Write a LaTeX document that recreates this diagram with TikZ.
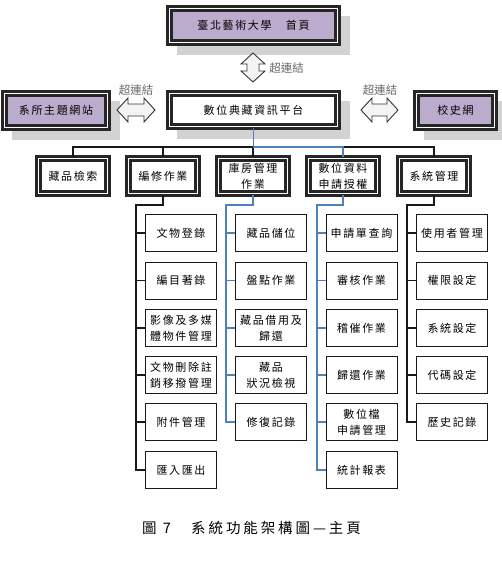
\documentclass[tikz,border=0pt]{standalone}
\usepackage{fontspec}
\usetikzlibrary{backgrounds}
\newfontfamily\cjk[LetterSpace=15]{Noto Sans CJK TC}
\newfontfamily\cjkn{Noto Sans CJK TC}
\newfontfamily\cjkcap[LetterSpace=20]{Noto Sans CJK TC}
\definecolor{lav}{RGB}{187,172,205}
\definecolor{shad}{RGB}{210,210,210}
\definecolor{lblue}{RGB}{79,129,189}
\definecolor{arrfill}{RGB}{244,244,246}
\tikzset{
  dbl/.style={draw=black!85, double=white, line width=2.8pt, double distance=1pt,
    align=center, inner sep=0pt, fill=white,
    font=\cjk\fontsize{11}{16}\selectfont},
  lvtwo/.style={dbl, minimum width=69pt, minimum height=35pt},
  topbox/.style={dbl, fill=lav, minimum height=34pt},
  leaf/.style={draw=black!90, line width=1pt, fill=white, minimum width=71pt, minimum height=37pt,
    align=center, inner sep=0pt, font=\cjk\fontsize{11}{16}\selectfont},
  conn/.style={line width=1.4pt, black!90},
  bconn/.style={line width=1.1pt, lblue},
  blockarrow/.style={draw=black!80, line width=0.9pt, fill=arrfill, line join=miter},
  linklabel/.style={font=\cjkn\fontsize{11.5}{13}\selectfont, text=black!60, inner sep=0pt},
  shadowbox/.style={fill=shad, draw=none}
}
\begin{document}
\begin{tikzpicture}[x=1pt,y=-1pt]
\useasboundingbox (0,0) rectangle (501,577);
% coordinates
\coordinate (bus) at (0,147);
\coordinate (t1) at (136,205);
\coordinate (t2) at (226,205);
\coordinate (t3) at (317,205);
\coordinate (t4) at (407,205);

% top row
\node[topbox, minimum width=168pt] (home) at (253.5,25.5) {臺北藝術大學　首頁};
\node[dbl, minimum width=168pt, minimum height=33pt] (main) at (253.5,110) {數位典藏資訊平台};
\node[topbox, minimum width=103pt] (dept) at (56,110.5) {系所主題網站};
\node[topbox, minimum width=78pt] (hist) at (455.5,110.5) {校史網};

\begin{scope}[on background layer]
  \foreach \b in {home,main,dept,hist}
    \fill[shadowbox] ([shift={(8.6,8.6)}]\b.north west) rectangle ([shift={(11.4,11.4)}]\b.south east);
\end{scope}

% block arrows
\draw[blockarrow] (253,53) -- (265,64) -- (259,64) -- (259,71) -- (265,71) -- (253,82)
  -- (241,71) -- (247,71) -- (247,64) -- (241,64) -- cycle;
\draw[blockarrow] (117,110) -- (128,98) -- (128,104) -- (144,104) -- (144,98) -- (155,110)
  -- (144,122) -- (144,116) -- (128,116) -- (128,122) -- cycle;
\draw[blockarrow] (361,110) -- (372,98) -- (372,104) -- (387,104) -- (387,98) -- (398,110)
  -- (387,122) -- (387,116) -- (372,116) -- (372,122) -- cycle;
\node[linklabel] (lk1) at (286.5,68) {超連結};
\node[linklabel] (lk2) at (136,90) {超連結};
\node[linklabel] (lk3) at (380,90) {超連結};

% level 2
\node[lvtwo] (sa) at (73,176) {藏品檢索};
\node[lvtwo] (sb) at (163,176) {編修作業};
\node[lvtwo] (sc) at (253,176) {庫房管理\\作業};
\node[lvtwo] (sd) at (343,176) {數位資料\\申請授權};
\node[lvtwo] (se) at (434,176) {系統管理};

% level 3
\node[leaf] (a1) at (181,233) {文物登錄};
\node[leaf] (a2) at (181,280.5) {編目著錄};
\node[leaf] (a3) at (181,328) {影像及多媒\\體物件管理};
\node[leaf] (a4) at (181,375) {文物刪除註\\銷移撥管理};
\node[leaf] (a5) at (181,422) {附件管理};
\node[leaf] (a6) at (181,470) {匯入匯出};

\node[leaf] (b1) at (271,233) {藏品儲位};
\node[leaf] (b2) at (271,280.5) {盤點作業};
\node[leaf] (b3) at (271,328) {藏品借用及\\歸還};
\node[leaf] (b4) at (271,375) {藏品\\狀況檢視};
\node[leaf] (b5) at (271,422) {修復記錄};

\node[leaf] (c1) at (361.5,233) {申請單查詢};
\node[leaf] (c2) at (361.5,280.5) {審核作業};
\node[leaf] (c3) at (361.5,328) {稽催作業};
\node[leaf] (c4) at (361.5,375) {歸還作業};
\node[leaf] (c5) at (361.5,422) {數位檔\\申請管理};
\node[leaf] (c6) at (361.5,470) {統計報表};

\node[leaf] (d1) at (452,233) {使用者管理};
\node[leaf] (d2) at (452,280.5) {權限設定};
\node[leaf] (d3) at (452,328) {系統設定};
\node[leaf] (d4) at (452,375) {代碼設定};
\node[leaf] (d5) at (452,422) {歷史記錄};

% connectors: bus
\draw[conn] (sa.north) -- (sa.north |- bus) -- (se.north |- bus) -- (se.north);
\draw[conn] (sb.north) -- (sb.north |- bus);
\draw[conn] (sc.north) -- (sc.north |- bus);
\draw[bconn] (main.south) -- (main.south |- bus) -- (sd.north |- bus) -- (sd.north);

% column 1
\draw[conn] (sb.south) -- (sb.south |- t1) -- (t1) -- (t1 |- a6.west) -- (a6.west);
\foreach \n in {a1,a2,a3,a4,a5} \draw[conn] (t1 |- \n.west) -- (\n.west);
% column 2
\draw[bconn] (sc.south) -- (sc.south |- t2) -- (t2) -- (t2 |- b5.west) -- (b5.west);
\foreach \n in {b1,b2,b3,b4} \draw[bconn] (t2 |- \n.west) -- (\n.west);
% column 3
\draw[bconn] (sd.south) -- (sd.south |- t3) -- (t3) -- (t3 |- c6.west) -- (c6.west);
\foreach \n in {c1,c2,c3,c4,c5} \draw[bconn] (t3 |- \n.west) -- (\n.west);
% column 4
\draw[conn] (se.south) -- (se.south |- t4) -- (t4) -- (t4 |- d5.west) -- (d5.west);
\foreach \n in {d1,d2,d3,d4} \draw[conn] (t4 |- \n.west) -- (\n.west);

% caption
\node[font=\cjkcap\fontsize{14.5}{16}\selectfont, inner sep=0pt] (cap) at (251.5,528) {圖 7　系統功能架構圖—主頁};
\end{tikzpicture}
\end{document}
